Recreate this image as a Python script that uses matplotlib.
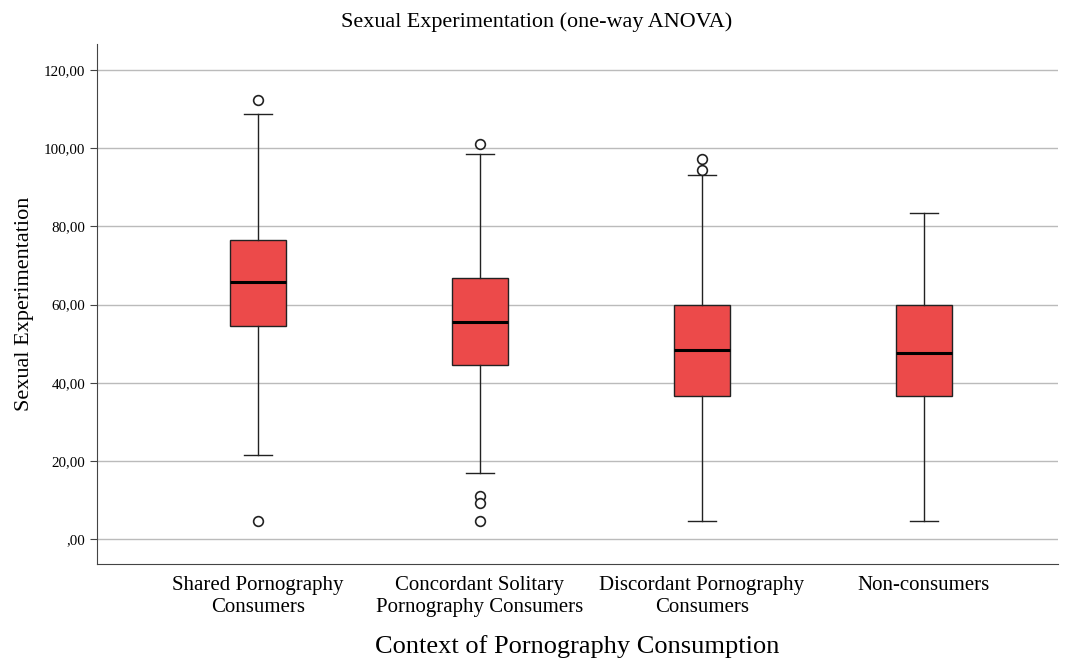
import matplotlib
matplotlib.use("Agg")
import matplotlib.pyplot as plt
from matplotlib.ticker import FuncFormatter

plt.rcParams['font.family'] = ['Liberation Serif', 'DejaVu Serif']

groups = ["Shared Pornography\nConsumers", "Concordant Solitary\nPornography Consumers",
          "Discordant Pornography\nConsumers", "Non-consumers"]
whislo = [21.5, 16.9, 4.6, 4.6]
q1 = [54.5, 44.5, 36.6, 36.6]
med = [65.8, 55.5, 48.4, 47.6]
q3 = [76.5, 66.8, 59.9, 59.9]
whishi = [108.7, 98.5, 93.1, 83.4]
fliers = [[112.3, 4.6], [101.1, 11.0, 9.2, 4.6], [97.2, 94.4], []]
yticks = [0, 20, 40, 60, 80, 100, 120]


def fmt(v, pos):
    s = "%.2f" % v
    s = s.replace(".", ",")
    if s.startswith("0,"):
        s = s[1:]
    return s


def main():
    fig = plt.figure(figsize=(10.73, 6.58), dpi=100)
    ax = fig.add_axes([0.0904, 0.1429, 0.8956, 0.7902])

    stats = []
    for i in range(len(groups)):
        stats.append({"whislo": whislo[i], "q1": q1[i], "med": med[i], "q3": q3[i],
                      "whishi": whishi[i], "fliers": fliers[i]})

    ax.bxp(stats, positions=[1, 2, 3, 4], widths=0.252, patch_artist=True,
           boxprops=dict(facecolor="#EC4A4A", edgecolor="#222222", linewidth=1.0),
           medianprops=dict(color="black", linewidth=2.2),
           whiskerprops=dict(color="#222222", linewidth=1.0),
           capprops=dict(color="#222222", linewidth=1.0),
           flierprops=dict(marker="o", markerfacecolor="white", markeredgecolor="#222222",
                           markersize=7, markeredgewidth=1.2),
           capwidths=0.126, zorder=3)

    ax.set_xlim(0.275, 4.604)
    ax.set_ylim(-6.4, 126.7)
    ax.set_yticks(yticks)
    ax.yaxis.set_major_formatter(FuncFormatter(fmt))
    ax.yaxis.grid(True, color="#BBBBBB", linewidth=1.0, zorder=0)
    ax.set_axisbelow(True)
    ax.set_xticks([1, 2, 3, 4])
    ax.set_xticklabels(groups, fontsize=15, linespacing=1.15)
    ax.tick_params(axis="x", length=0, pad=9)
    ax.tick_params(axis="y", labelsize=10.8, length=5, color="#444444")
    for s in ["top", "right"]:
        ax.spines[s].set_visible(False)
    for s in ["left", "bottom"]:
        ax.spines[s].set_color("#444444")

    ax.set_ylabel("Sexual Experimentation", fontsize=16, labelpad=7)
    ax.set_xlabel("Context of Pornography Consumption", fontsize=19, labelpad=13)
    fig.text(0.5, 0.967, "Sexual Experimentation (one-way ANOVA)", ha="center", va="center",
             fontsize=15.9)

    fig.savefig("out.png", dpi=100)


if __name__ == "__main__":
    main()
